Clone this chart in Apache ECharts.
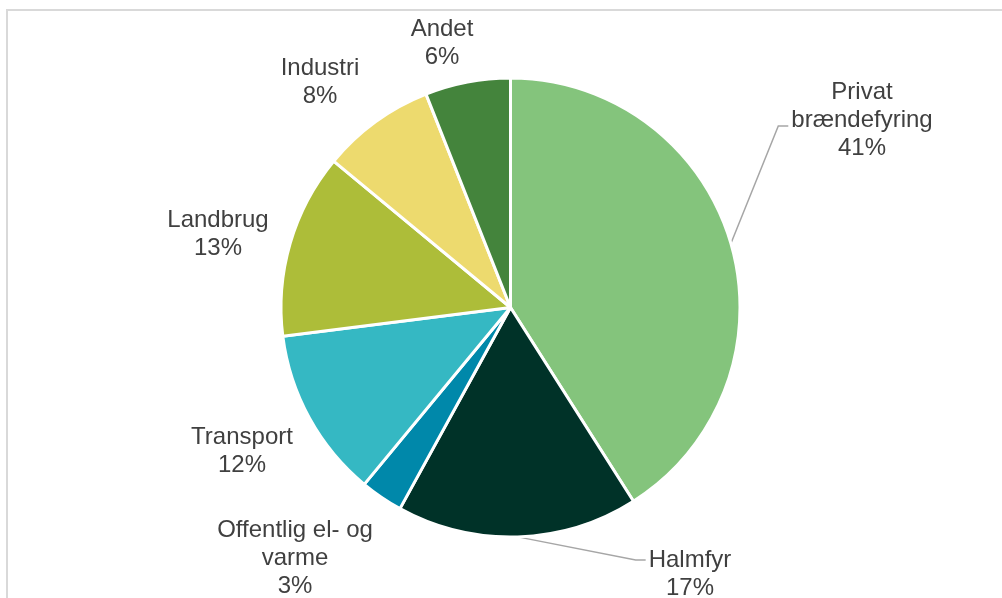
<!DOCTYPE html>
<html>
<head>
<meta charset="utf-8">
<script src="https://cdn.jsdelivr.net/npm/echarts@6/dist/echarts.min.js"></script>
<style>
  html, body { margin: 0; padding: 0; background: #fff; }
  #chart { width: 1002px; height: 598px; }
</style>
</head>
<body>
<div id="chart"></div>
<script>
// data
var categories = ['Privat\nbrændefyring', 'Halmfyr', 'Offentlig el- og\nvarme', 'Transport', 'Landbrug', 'Industri', 'Andet'];
var shares = [41, 17, 3, 12, 13, 8, 6];
var colors = ['#84C47C', '#003228', '#0088AA', '#35B8C3', '#ADBD39', '#EDDA6E', '#44843C'];
var withLeader = [true, true, false, false, false, false, false];

// label centre positions (layout only)
var labelPos = [[862, 120], [690, 574], [295, 558], [242, 451], [218, 234], [320, 82], [442, 43]];
// which text line the leader line attaches to (offset from block centre)
var leaderLineOffset = [6, -14, 0, 0, 0, 0, 0];

var cx = 510.5, cy = 307.5, R = 229.5;
var total = shares.reduce(function (a, b) { return a + b; }, 0);

function sliceAnchor(idx) {
  var before = 0;
  for (var i = 0; i < idx; i++) before += shares[i];
  var ang = (before + shares[idx] / 2) / total * 2 * Math.PI;
  return [cx + R * Math.sin(ang), cy - R * Math.cos(ang)];
}

var myChart = echarts.init(document.getElementById('chart'));
var option = {
  backgroundColor: '#fff',
  animation: false,
  graphic: [
    { type: 'line', shape: { x1: 6, y1: 10, x2: 1002, y2: 10 }, style: { stroke: '#d9d9d9', lineWidth: 2 } },
    { type: 'line', shape: { x1: 7, y1: 9, x2: 7, y2: 598 }, style: { stroke: '#d9d9d9', lineWidth: 2 } }
  ],
  series: [{
    type: 'pie',
    center: [cx, cy],
    radius: [0, R],
    startAngle: 90,
    clockwise: true,
    itemStyle: { borderColor: '#fff', borderWidth: 3 },
    label: {
      show: true,
      formatter: '{b}\n{c}%',
      color: '#404040',
      fontFamily: '"Liberation Sans", Arial, sans-serif',
      fontSize: 24,
      lineHeight: 28,
      align: 'center'
    },
    labelLine: { show: true, lineStyle: { color: '#a6a6a6', width: 1.5 } },
    labelLayout: function (p) {
      var i = p.dataIndex;
      var pos = labelPos[i];
      var res = { x: pos[0], y: pos[1], align: 'center', verticalAlign: 'middle' };
      if (withLeader[i]) {
        var left = pos[0] - p.labelRect.width / 2 - 3;
        var ly = pos[1] + leaderLineOffset[i];
        res.labelLinePoints = [sliceAnchor(i), [left - 10, ly], [left, ly]];
      }
      return res;
    },
    data: categories.map(function (name, i) {
      return {
        name: name,
        value: shares[i],
        itemStyle: { color: colors[i] },
        labelLine: { show: withLeader[i] }
      };
    })
  }]
};
myChart.setOption(option);
</script>
</body>
</html>
